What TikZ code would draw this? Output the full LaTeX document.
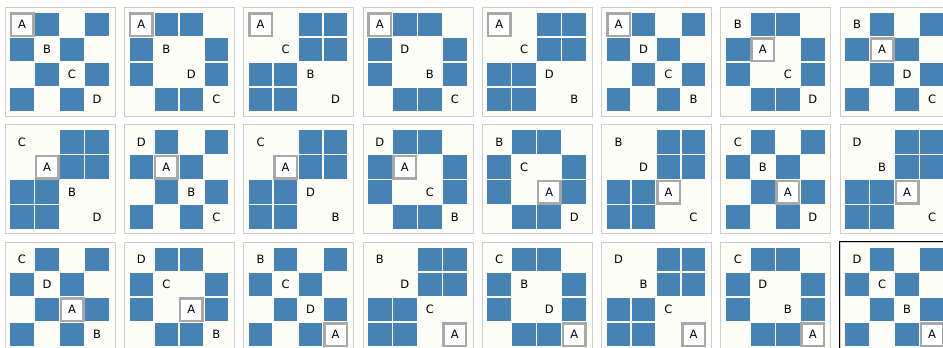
\documentclass[tikz,border=0pt]{standalone}
\usepackage{fontspec}
\setmainfont{DejaVu Sans}
\usepackage{xcolor}
\usepackage{tikz}
\usetikzlibrary{positioning}

\definecolor{cellblue}{RGB}{70,130,180}
\definecolor{panelbg}{RGB}{253,253,247}
\definecolor{framegray}{RGB}{204,204,204}
\definecolor{markgray}{RGB}{168,168,168}

% blue cells of the three layouts (row/column)
\newcommand{\layoutk}{0/1,0/3,1/0,1/2,2/1,2/3,3/0,3/2}
\newcommand{\layoutr}{0/1,0/2,1/0,1/3,2/0,2/3,3/1,3/2}
\newcommand{\layoutb}{0/2,0/3,1/2,1/3,2/0,2/1,3/0,3/1}
\def\letterA{A}

\begin{document}
\begin{tikzpicture}[
        x=1pt, y=-1pt,
        panel/.style={
            rectangle,
            draw=framegray,
            fill=panelbg,
            line width=0.8pt,
            minimum width=110pt,
            minimum height=109pt,
            inner sep=0pt
        },
        cell/.style={
            rectangle,
            fill=cellblue,
            minimum size=23.6pt,
            inner sep=0pt
        },
        letter/.style={
            inner sep=0pt,
            font=\fontsize{11.5}{13}\selectfont
        },
        marked/.style={
            draw=markgray,
            fill=white,
            line width=2.5pt,
            minimum size=22.5pt
        },
        selected/.style={
            draw=black,
            line width=1.2pt
        }
    ]
        \clip (0,0) rectangle (943,348);
        \fill[white] (0,0) rectangle (943,348);

        % Panels: row/column/diagonal letters/layout
        \foreach \r/\c/\la/\lb/\lc/\ld/\pat in {
            1/1/A/B/C/D/k, 1/2/A/B/D/C/r, 1/3/A/C/B/D/b, 1/4/A/D/B/C/r,
            1/5/A/C/D/B/b, 1/6/A/D/C/B/k, 1/7/B/A/C/D/r, 1/8/B/A/D/C/k,
            2/1/C/A/B/D/b, 2/2/D/A/B/C/k, 2/3/C/A/D/B/b, 2/4/D/A/C/B/r,
            2/5/B/C/A/D/r, 2/6/B/D/A/C/b, 2/7/C/B/A/D/k, 2/8/D/B/A/C/b,
            3/1/C/D/A/B/k, 3/2/D/C/A/B/r, 3/3/B/C/D/A/k, 3/4/B/D/C/A/b,
            3/5/C/B/D/A/r, 3/6/D/B/C/A/b, 3/7/C/D/B/A/r, 3/8/D/C/B/A/k} {
            \node[panel] (p\r\c) at ({60+119.3*(\c-1)},{61.5+117.5*(\r-1)}) {};
            % Blue cells
            \expandafter\let\expandafter\cells\csname layout\pat\endcsname
            \foreach \i/\j in \cells {
                \node[cell] (p\r\c-\i\j) at ({22+119.3*(\c-1)+25*\j},{24.5+117.5*(\r-1)+25*\i}) {};
            }
            % Letters on the diagonal
            \foreach \k/\l in {0/\la,1/\lb,2/\lc,3/\ld} {
                \edef\thisletter{\l}
                \ifx\thisletter\letterA
                    \node[letter,marked] (p\r\c-\l) at ({22+119.3*(\c-1)+25*\k},{24.5+117.5*(\r-1)+25*\k}) {\l};
                \else
                    \node[letter] (p\r\c-\l) at ({22+119.3*(\c-1)+25*\k},{24.5+117.5*(\r-1)+25*\k}) {\l};
                \fi
            }
        }

        % Current panel
        \draw[selected] (p38.north west) rectangle (p38.south east);
    \end{tikzpicture}
\end{document}
